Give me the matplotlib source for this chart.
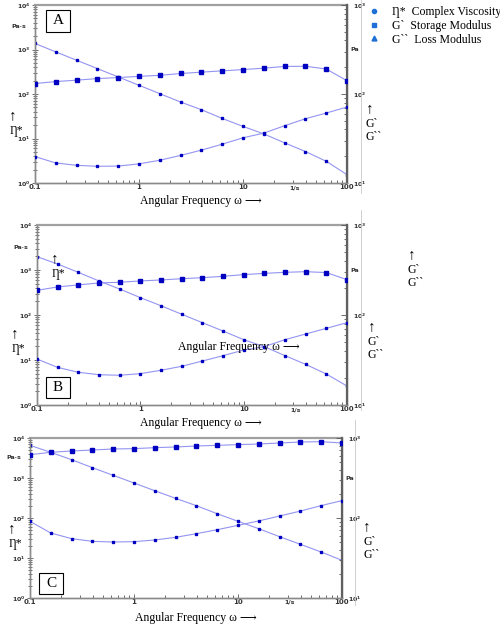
import numpy as np
import matplotlib
matplotlib.use("Agg")
import matplotlib.pyplot as plt
from matplotlib.lines import Line2D
from matplotlib.patches import Rectangle

W, H = 500, 627
SERIF = ["Liberation Serif", "DejaVu Serif", "DejaVu Sans"]

# angular frequency (rad/s), 5 points per decade
omega = [0.1, 0.158, 0.251, 0.398, 0.631, 1.0, 1.58, 2.51, 3.98, 6.31,
         10.0, 15.8, 25.1, 39.8, 63.1, 100.0]

# complex viscosity eta* (Pa.s, left axis)
eta_A = [1365, 885, 574, 372, 242, 157, 102, 66, 44.4, 28.2,
         18.7, 12.7, 8.0, 5.1, 3.08, 1.54]
eta_B = [1977, 1358, 887, 570, 378, 243, 161, 104, 67.6, 44.1,
         28.3, 19.8, 12.5, 8.0, 4.89, 2.64]
eta_C = [6561, 4385, 2871, 1811, 1167, 750, 482, 310, 203, 128,
         82.6, 54.1, 34.1, 22.0, 14.1, 8.75]

# storage modulus G' (Pa, right axis)
gp_A = [131, 138, 143, 149, 153, 158, 162, 170, 176, 182,
        188, 195, 204, 205, 191, 141]
gp_B = [188, 205, 216, 227, 231, 239, 245, 253, 260, 269,
        281, 290, 298, 303, 296, 247]
gp_C = [619, 662, 688, 708, 729, 736, 757, 772, 794, 810,
        826, 841, 866, 891, 900, 866]

# loss modulus G'' (Pa, right axis)
gpp_A = [19.8, 16.8, 15.8, 15.4, 15.5, 16.4, 18.0, 20.4, 23.4, 27.3,
         32.2, 36.3, 44.0, 52.7, 61.1, 71.4]
gpp_B = [32.4, 26.2, 23.1, 21.7, 21.4, 22.3, 24.3, 26.9, 30.8, 35.3,
         40.8, 44.5, 53.2, 61.5, 71.1, 82.2]
gpp_C = [90.9, 65.0, 55.2, 51.1, 50.1, 50.6, 53.1, 57.3, 63.7, 71.4,
         81.0, 91.8, 106, 122, 143, 165]

panels = ["A", "B", "C"]
eta = [eta_A, eta_B, eta_C]
gp = [gp_A, gp_B, gp_C]
gpp = [gpp_A, gpp_B, gpp_C]
xticks = [0.1, 1, 10, 100]
xticklabels = ["0.1", "1", "10", "100"]

# axes boxes in pixels: left, right, top, bottom
boxes = [(35, 347, 5, 183), (37, 347, 225, 405), (30, 342, 438, 598)]

LINE = "#9494f2"
MARK = "#0000c0"
GRAY = "#8a8a8a"


def fx(x):
    return x / W


def fy(y):
    return 1 - y / H


fig = plt.figure(figsize=(W / 100, H / 100), dpi=100)


def style_axes(ax, ax2):
    for a in (ax, ax2):
        for s in a.spines.values():
            s.set_color(GRAY)
            s.set_linewidth(1.0)
    ax.spines["top"].set_linewidth(1.6)
    ax.spines["top"].set_color("#a0a0a0")
    ax2.spines["top"].set_visible(False)
    ax2.spines["right"].set_color("#606060")
    ax2.spines["right"].set_linewidth(1.6)
    ax.tick_params(axis="y", which="both", direction="inout", colors="#555555",
                   labelsize=4.5, length=4, width=0.6, pad=1)
    ax.tick_params(axis="y", which="minor", length=2.5)
    ax.tick_params(axis="x", which="both", direction="in", colors="#555555",
                   labelsize=5, length=3, width=0.6, pad=1)
    ax.tick_params(axis="x", which="minor", length=2)
    ax2.tick_params(axis="y", which="both", direction="in", colors="#555555",
                    labelsize=4.5, length=4, width=0.6, pad=4)
    ax2.tick_params(axis="y", which="minor", length=2.5)
    for lab in ax.get_xticklabels() + ax.get_yticklabels() + ax2.get_yticklabels():
        lab.set_fontweight("bold")
        lab.set_color("#333333")


for i, name in enumerate(panels):
    l, r, t, b = boxes[i]
    ax = fig.add_axes([fx(l), fy(b), (r - l) / W, (b - t) / H])
    ax.set_xscale("log")
    ax.set_yscale("log")
    ax.set_xlim(0.1, 100)
    ax.set_ylim(1, 1e4)
    ax2 = ax.twinx()
    ax2.set_yscale("log")
    ax2.set_ylim(10, 1000)

    ax.plot(omega, eta[i], color=LINE, lw=0.8, marker="s", ms=1.7,
            mfc=MARK, mec=MARK, zorder=3)
    ax2.plot(omega, gp[i], color=LINE, lw=0.8, marker="s", ms=2.6,
             mfc=MARK, mec=MARK, zorder=3)
    ax2.plot(omega, gpp[i], color=LINE, lw=0.8, marker="s", ms=1.7,
             mfc=MARK, mec=MARK, zorder=3)

    ax.set_xticks(xticks)
    ax.set_xticklabels(xticklabels)
    ax.set_yticks([1, 10, 100, 1000, 10000])
    ax.set_yticklabels([r"$\mathbf{10^{%d}}$" % k for k in range(5)])
    ax2.set_yticks([10, 100, 1000])
    ax2.set_yticklabels([r"$\mathbf{10^{%d}}$" % k for k in range(1, 4)])
    style_axes(ax, ax2)

    ax.text(31.6, -0.012, "1/s", transform=ax.get_xaxis_transform(),
            ha="center", va="top", fontsize=4.5, fontweight="bold", color="#333333")
    ax.text(-0.03, 0.877, "Pa·s", transform=ax.transAxes,
            ha="right", va="center", fontsize=4.5, fontweight="bold", color="#333333")
    ax2.text(1.012, 0.75, "Pa", transform=ax2.transAxes,
             ha="left", va="center", fontsize=4.5, fontweight="bold", color="#333333")

# panel label boxes (pixels: x0, y0, x1, y1)
label_boxes = {"A": (46, 10, 70, 32), "B": (46, 377, 70, 398), "C": (39, 573, 63, 594)}
for name, (x0, y0, x1, y1) in label_boxes.items():
    fig.patches.append(Rectangle((fx(x0), fy(y1)), (x1 - x0) / W, (y1 - y0) / H,
                                 transform=fig.transFigure, fill=True, fc="white",
                                 ec="black", lw=0.8, zorder=5))
    fig.text(fx((x0 + x1) / 2), fy((y0 + y1) / 2), name, ha="center", va="center",
             fontsize=11, family=SERIF, zorder=6)

xlab = "Angular Frequency ω ⟶"
for (x, y) in [(140, 201), (140, 423), (135, 618), (178, 347)]:
    fig.text(fx(x), fy(y), xlab, ha="left", va="center", fontsize=8.5, family=SERIF)

eta_lab = "Ƞ*"
for (x, y) in [(13, 116), (15, 334), (12, 529), (55, 259)]:
    fig.text(fx(x), fy(y), "↑", ha="center", va="center", fontsize=11, family=SERIF)
    fig.text(fx(x - 3), fy(y + 15), eta_lab, ha="left", va="center", fontsize=8.5, family=SERIF)

for (x, y) in [(370, 109), (372, 327), (367, 527), (412, 255)]:
    fig.text(fx(x), fy(y), "↑", ha="center", va="center", fontsize=11, family=SERIF)
    fig.text(fx(x - 4), fy(y + 15), "G`", ha="left", va="center", fontsize=8.5, family=SERIF)
    fig.text(fx(x - 4), fy(y + 28), "G``", ha="left", va="center", fontsize=8.5, family=SERIF)

# thin gray frame edges on the right of each panel image
for (x, y0, y1) in [(361, 0, 193), (361, 210, 410), (355, 420, 605)]:
    fig.add_artist(Line2D([fx(x), fx(x)], [fy(y0), fy(y1)], color="#c8c8c8", lw=0.6))

LEG = "#1e6fd6"
handles = [Line2D([], [], ls="", marker="o", ms=3, color=LEG),
           Line2D([], [], ls="", marker="s", ms=2.8, color=LEG),
           Line2D([], [], ls="", marker="^", ms=3.5, color=LEG)]
labels = ["Ƞ*  Complex Viscosity", "G`  Storage Modulus", "G``  Loss Modulus"]
fig.legend(handles, labels, loc="upper left", bbox_to_anchor=(fx(368), fy(6)),
           frameon=False, prop={"family": SERIF, "size": 8.5}, handlelength=1.0,
           handletextpad=1.0, labelspacing=0.15, borderaxespad=0, borderpad=0)

fig.savefig("out.png", dpi=100)
